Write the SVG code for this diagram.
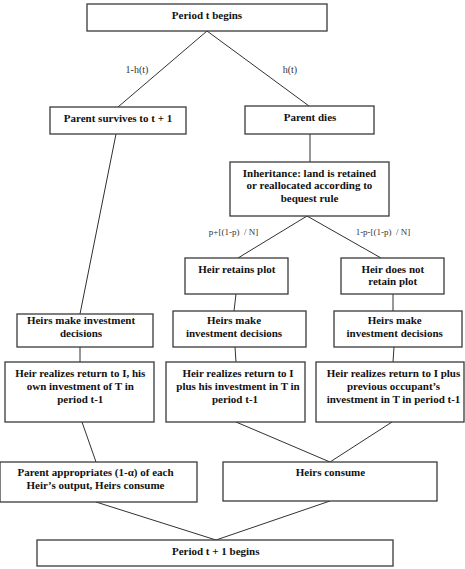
<svg xmlns="http://www.w3.org/2000/svg" width="465" height="569" viewBox="0 0 465 569">
  <style>
    .box { fill: #ffffff; stroke: #3a3a3a; stroke-width: 1.3; }
    .link { fill: none; stroke: #1a1a1a; stroke-width: 0.9; }
    .t { font-family: "Liberation Serif", "Times New Roman", serif; font-weight: bold; font-size: 11px; fill: #111; text-anchor: middle; }
    .lbl { font-family: "Liberation Serif", "Times New Roman", serif; font-size: 10px; fill: #333; text-anchor: middle; }
    .lbl-s { font-size: 9px; }
  </style>
  <rect width="465" height="569" fill="#ffffff"/>

  <!-- connectors -->
  <g id="connectors">
    <line class="link" x1="207" y1="31" x2="118" y2="107"/>
    <line class="link" x1="207" y1="31" x2="309" y2="106"/>
    <line class="link" x1="116" y1="134" x2="80" y2="314"/>
    <line class="link" x1="310" y1="134" x2="310" y2="162"/>
    <line class="link" x1="307" y1="216" x2="238" y2="258"/>
    <line class="link" x1="307" y1="216" x2="381" y2="258"/>
    <line class="link" x1="236" y1="294" x2="234" y2="311"/>
    <line class="link" x1="393" y1="294" x2="393" y2="311"/>
    <line class="link" x1="80" y1="347" x2="80" y2="362"/>
    <line class="link" x1="235" y1="347" x2="236" y2="362"/>
    <line class="link" x1="394" y1="347" x2="393" y2="362"/>
    <line class="link" x1="82" y1="422" x2="96" y2="462"/>
    <line class="link" x1="236" y1="422" x2="330" y2="462"/>
    <line class="link" x1="392" y1="422" x2="330" y2="462"/>
    <line class="link" x1="96" y1="502" x2="216" y2="540"/>
    <line class="link" x1="330" y1="501" x2="216" y2="540"/>
    <text class="lbl" x="137" y="72.5">1-h(t)</text>
    <text class="lbl" x="290" y="72.5">h(t)</text>
    <text class="lbl lbl-s" x="233.5" y="234.5" xml:space="preserve">p+[(1-p)  / N]</text>
    <text class="lbl lbl-s" x="383" y="234.5" xml:space="preserve">1-p-[(1-p)  / N]</text>
  </g>

  <g id="period-t">
    <rect class="box" x="87" y="4" width="240" height="27"/>
    <text class="t" x="207" y="18.5">Period t begins</text>
  </g>

  <g id="parent-survives">
    <rect class="box" x="50" y="107" width="136" height="27"/>
    <text class="t" x="118" y="122">Parent survives to t + 1</text>
  </g>

  <g id="parent-dies">
    <rect class="box" x="245" y="106" width="129" height="28"/>
    <text class="t" x="310" y="120.5">Parent dies</text>
  </g>

  <g id="inheritance">
    <rect class="box" x="230" y="162" width="159" height="54"/>
    <text class="t" x="309.5" y="176.5">Inheritance: land is retained</text>
    <text class="t" x="309.5" y="189">or reallocated according to</text>
    <text class="t" x="309.5" y="201.5">bequest rule</text>
  </g>

  <g id="heir-retains">
    <rect class="box" x="185" y="258" width="103" height="36"/>
    <text class="t" x="236.8" y="272.5">Heir retains plot</text>
  </g>

  <g id="heir-not-retain">
    <rect class="box" x="341" y="258" width="103" height="36"/>
    <text class="t" x="392.8" y="272.5">Heir does not</text>
    <text class="t" x="392.8" y="285.3">retain plot</text>
  </g>

  <g id="invest-left">
    <rect class="box" x="17" y="314" width="136" height="33"/>
    <text class="t" x="81" y="324.3">Heirs make investment</text>
    <text class="t" x="81" y="337.3">decisions</text>
  </g>

  <g id="invest-mid">
    <rect class="box" x="173" y="311" width="133" height="36"/>
    <text class="t" x="234" y="324.3">Heirs make</text>
    <text class="t" x="234" y="337.3">investment decisions</text>
  </g>

  <g id="invest-right">
    <rect class="box" x="334" y="311" width="128" height="36"/>
    <text class="t" x="394.7" y="324.3">Heirs make</text>
    <text class="t" x="394.7" y="337.3">investment decisions</text>
  </g>

  <g id="return-left">
    <rect class="box" x="5" y="362" width="149" height="60"/>
    <text class="t" x="80.3" y="377.3">Heir realizes return to I, his</text>
    <text class="t" x="80.3" y="390.3">own investment of T in</text>
    <text class="t" x="80.3" y="403">period t-1</text>
  </g>

  <g id="return-mid">
    <rect class="box" x="166" y="362" width="139" height="60"/>
    <text class="t" x="238" y="377.3">Heir realizes return to I</text>
    <text class="t" x="238" y="390.3">plus his investment in T in</text>
    <text class="t" x="235" y="403">period t-1</text>
  </g>

  <g id="return-right">
    <rect class="box" x="316" y="362" width="148" height="60"/>
    <text class="t" x="393.5" y="377.3">Heir realizes return to I plus</text>
    <text class="t" x="393.5" y="390.3">previous occupant’s</text>
    <text class="t" x="393.5" y="403">investment in T in period t-1</text>
  </g>

  <g id="parent-appropriates">
    <rect class="box" x="0" y="462" width="197" height="40"/>
    <text class="t" x="95.5" y="475.7">Parent appropriates (1-α) of each</text>
    <text class="t" x="95.5" y="489">Heir’s output, Heirs consume</text>
  </g>

  <g id="heirs-consume">
    <rect class="box" x="223" y="462" width="214" height="39"/>
    <text class="t" x="330.5" y="475.7">Heirs consume</text>
  </g>

  <g id="period-t1">
    <rect class="box" x="37" y="540" width="356" height="26"/>
    <text class="t" x="215.7" y="554.7">Period t + 1 begins</text>
  </g>
</svg>
